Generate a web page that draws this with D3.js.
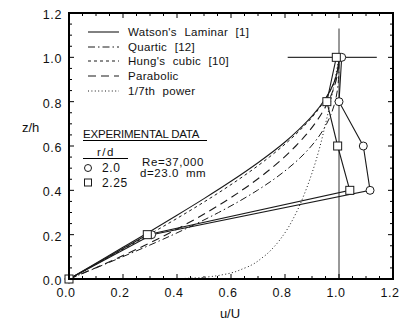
<!DOCTYPE html>
<html><head><meta charset="utf-8">
<script src="https://cdn.jsdelivr.net/npm/d3@7"></script>
<style>
body{margin:0;background:#fff;}
svg text{font-family:"Liberation Sans",Arial,Helvetica,sans-serif;fill:#111;}
</style></head>
<body><svg id="c" width="405" height="321"></svg>
<script>
// z/h sampling for polynomial profiles
const etaPoly = [0,0.05,0.1,0.15,0.2,0.25,0.3,0.35,0.4,0.45,0.5,0.55,0.6,0.65,0.7,0.75,0.8,0.85,0.9,0.95,1.0];
const quarticU  = [0,0.0998,0.198,0.2938,0.3856,0.4727,0.5541,0.6293,0.6976,0.7588,0.8125,0.8588,0.8976,0.9293,0.9541,0.9727,0.9856,0.9938,0.9981,0.9998,1];
const parabolicU= [0,0.0975,0.19,0.2775,0.36,0.4375,0.51,0.5775,0.64,0.6975,0.75,0.7975,0.84,0.8775,0.91,0.9375,0.96,0.9775,0.99,0.9975,1];
const cubicU    = [0,0.0749,0.1495,0.2233,0.296,0.3672,0.4365,0.5036,0.568,0.6294,0.6875,0.7418,0.792,0.8377,0.8785,0.9141,0.944,0.9679,0.9855,0.9963,1];
// Watson's laminar profile
const watsonEta = [0,0.0713,0.1428,0.2147,0.2876,0.3625,0.4407,0.5245,0.618,0.673,0.735,0.814,0.882,0.917,1];
const watsonU   = [0,0.1,0.2,0.3,0.4,0.5,0.6,0.7,0.8,0.85,0.9,0.95,0.98,0.99,1];
// 1/7th power profile
const powerEta = [0,0.0001,0.001,0.005,0.01,0.02,0.05,0.1,0.15,0.2,0.3,0.4,0.5,0.6,0.7,0.8,0.9,1];
const powerU   = [0,0.268,0.373,0.469,0.518,0.572,0.652,0.720,0.763,0.795,0.842,0.877,0.906,0.930,0.950,0.969,0.985,1];
// experimental data
const expZ = [0,0.2,0.4,0.6,0.8,1.0];
const exp20U  = [0,0.306,1.115,1.09,1.0,1.01];
const exp225U = [0,0.29,1.04,0.995,0.955,0.99];
const xTicks = [0,0.2,0.4,0.6,0.8,1.0,1.2];
const yTicks = [0,0.2,0.4,0.6,0.8,1.0,1.2];
const legendLabels = ["Watson's Laminar [1]","Quartic [12]","Hung's cubic [10]","Parabolic","1/7th power"];

const svg = d3.select("#c");
const x = d3.scaleLinear().domain([0,1.2]).range([69,393]);
const y = d3.scaleLinear().domain([0,1.2]).range([279,13]);
const ink = "#1a1a1a";

const styles = [
  {dash:null, w:1.1},
  {dash:"7,3,1.5,3", w:1},
  {dash:"3,3", w:1},
  {dash:"8,5", w:1.1},
  {dash:"1,2.4", w:1}
];
const curves = [
  watsonU.map((u,i)=>[u,watsonEta[i]]),
  quarticU.map((u,i)=>[u,etaPoly[i]]),
  cubicU.map((u,i)=>[u,etaPoly[i]]),
  parabolicU.map((u,i)=>[u,etaPoly[i]]),
  powerU.map((u,i)=>[u,powerEta[i]])
];
const line = d3.line().x(d=>x(d[0])).y(d=>y(d[1])).curve(d3.curveMonotoneY);
const lineL = d3.line().x(d=>x(d[0])).y(d=>y(d[1]));

// reference lines
svg.append("line").attr("x1",x(1)).attr("x2",x(1)).attr("y1",y(0)).attr("y2",y(1.13))
  .attr("stroke","#333").attr("stroke-width",1);
svg.append("line").attr("x1",x(0.81)).attr("x2",x(1.14)).attr("y1",y(1)).attr("y2",y(1))
  .attr("stroke","#333").attr("stroke-width",1.4);

curves.forEach((c,i)=>{
  svg.append("path").attr("d",line(c)).attr("fill","none").attr("stroke",ink)
    .attr("stroke-width",styles[i].w).attr("stroke-dasharray",styles[i].dash);
});

// experimental lines
[exp20U, exp225U].forEach(arr=>{
  svg.append("path").attr("d",lineL(arr.map((u,i)=>[u,expZ[i]]))).attr("fill","none")
    .attr("stroke",ink).attr("stroke-width",1.1);
});
// markers
svg.selectAll(".cm").data(exp20U.map((u,i)=>[u,expZ[i]])).enter().append("circle")
  .attr("cx",d=>x(d[0])).attr("cy",d=>y(d[1])).attr("r",4).attr("fill","#fff").attr("stroke",ink).attr("stroke-width",1);
svg.selectAll(".sm").data(exp225U.map((u,i)=>[u,expZ[i]])).enter().append("rect")
  .attr("x",d=>x(d[0])-4).attr("y",d=>y(d[1])-4).attr("width",8).attr("height",8).attr("fill","#fff").attr("stroke",ink).attr("stroke-width",1);

// frame
svg.append("rect").attr("x",x(0)).attr("y",y(1.2)).attr("width",x(1.2)-x(0)).attr("height",y(0)-y(1.2))
  .attr("fill","none").attr("stroke","#000").attr("stroke-width",2);

// ticks (inside, all four sides)
const minor = d3.range(0,1.2001,0.05);
const tk = svg.append("g").attr("stroke","#000").attr("stroke-width",1);
minor.forEach(v=>{
  const isMajor = Math.abs(v/0.2 - Math.round(v/0.2))<1e-6;
  const L = isMajor?5:3;
  tk.append("line").attr("x1",x(v)).attr("x2",x(v)).attr("y1",y(0)).attr("y2",y(0)-L);
  tk.append("line").attr("x1",x(v)).attr("x2",x(v)).attr("y1",y(1.2)).attr("y2",y(1.2)+L);
  tk.append("line").attr("y1",y(v)).attr("y2",y(v)).attr("x1",x(0)).attr("x2",x(0)+L);
  tk.append("line").attr("y1",y(v)).attr("y2",y(v)).attr("x1",x(1.2)).attr("x2",x(1.2)-L);
});

// tick labels
const fmt = d3.format(".1f");
svg.selectAll(".xl").data(xTicks).enter().append("text")
  .attr("x",d=>x(d)-3).attr("y",297).attr("text-anchor","middle").attr("font-size",12.5)
  .attr("letter-spacing",0.6).text(fmt);
svg.selectAll(".yl").data(yTicks).enter().append("text")
  .attr("x",62).attr("y",d=>y(d)+6).attr("text-anchor","end").attr("font-size",12.5)
  .attr("letter-spacing",0.6).text(fmt);
svg.append("text").attr("x",22).attr("y",132).attr("font-size",13).text("z/h");
svg.append("text").attr("x",230).attr("y",318).attr("text-anchor","middle").attr("font-size",13).text("u/U");

// legend
const legY = [32,47,61,76,91];
legendLabels.forEach((t,i)=>{
  svg.append("line").attr("x1",88).attr("x2",119).attr("y1",legY[i]).attr("y2",legY[i])
    .attr("stroke",ink).attr("stroke-width",styles[i].w).attr("stroke-dasharray",styles[i].dash);
  svg.append("text").attr("x",128).attr("y",legY[i]+4).attr("font-size",11.5)
    .attr("word-spacing",4).attr("letter-spacing",0.3).text(t);
});

// experimental data block
svg.append("text").attr("x",83).attr("y",138).attr("font-size",11.5).attr("letter-spacing",-0.2).text("EXPERIMENTAL DATA");
svg.append("line").attr("x1",83).attr("x2",207).attr("y1",140.5).attr("y2",140.5).attr("stroke","#000").attr("stroke-width",1);
svg.append("text").attr("x",97).attr("y",156).attr("font-size",11.5).attr("letter-spacing",1.5).text("r/d");
svg.append("line").attr("x1",83).attr("x2",128).attr("y1",158.5).attr("y2",158.5).attr("stroke","#000").attr("stroke-width",1);
svg.append("circle").attr("cx",88).attr("cy",168).attr("r",3.5).attr("fill","#fff").attr("stroke",ink);
svg.append("text").attr("x",102).attr("y",172).attr("font-size",12).attr("letter-spacing",0.6).text("2.0");
svg.append("rect").attr("x",84.5).attr("y",179).attr("width",7).attr("height",7).attr("fill","#fff").attr("stroke",ink);
svg.append("text").attr("x",102).attr("y",187).attr("font-size",12).attr("letter-spacing",0.6).text("2.25");
svg.append("text").attr("x",142).attr("y",166).attr("font-size",11.5).attr("letter-spacing",0.6).text("Re=37,000");
svg.append("text").attr("x",140).attr("y",177).attr("font-size",11.5).attr("letter-spacing",0.6).attr("word-spacing",3).text("d=23.0 mm");
</script></body></html>
